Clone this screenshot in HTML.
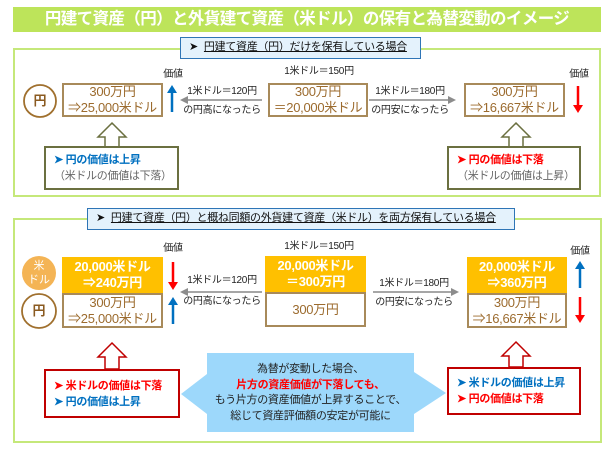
<!DOCTYPE html>
<html><head><meta charset="utf-8"><style>
body{margin:0;width:611px;height:450px;background:#fff;position:relative;overflow:hidden;font-family:"Liberation Sans","Noto Sans CJK JP",sans-serif;}
.a{position:absolute;}
.t{position:absolute;white-space:nowrap;text-align:center;line-height:1;}
.box{position:absolute;box-sizing:border-box;border:2px solid #a88a5a;color:#9c6b2e;font-size:13px;letter-spacing:-0.3px;white-space:nowrap;text-align:center;line-height:16px;display:flex;flex-direction:column;justify-content:center;background:#fff;}
.or{position:absolute;box-sizing:border-box;background:#ffc000;color:#fff;font-size:13px;letter-spacing:-0.3px;white-space:nowrap;font-weight:bold;text-align:center;line-height:16px;display:flex;flex-direction:column;justify-content:center;}
.lbl{font-size:10px;color:#222;letter-spacing:-0.3px;}
.hdr{position:absolute;box-sizing:border-box;background:#e4f2fc;border:1.5px solid #2e75b6;font-size:11px;color:#111;line-height:19px;padding-left:8px;white-space:nowrap;letter-spacing:-0.3px;}
.hdr u{margin-left:6px}
.nb{position:absolute;box-sizing:border-box;background:#fff;font-size:11px;letter-spacing:-0.3px;line-height:16px;padding:0 0 0 8px;display:flex;flex-direction:column;justify-content:center;white-space:nowrap;font-weight:bold;}
</style></head><body>
<div class="a" style="left:13px;top:7px;width:588px;height:25px;background:#bde45a;"></div>
<div class="t" style="left:13px;top:11px;width:588px;font-size:16.5px;letter-spacing:-0.6px;font-weight:bold;color:#fff;">円建て資産（円）と外貨建て資産（米ドル）の保有と為替変動のイメージ</div>

<div class="a" style="left:13px;top:48px;width:588px;height:149px;box-sizing:border-box;border:2px solid #c5e87a;"></div>
<div class="a" style="left:13px;top:218px;width:589px;height:225px;box-sizing:border-box;border:2px solid #c5e87a;"></div>

<svg class="a" style="left:0;top:0" width="611" height="450">
<defs>
<marker id="g" markerWidth="8" markerHeight="8" refX="6" refY="4" orient="auto" markerUnits="userSpaceOnUse"><path d="M0,0L8,4L0,8z" fill="#8c8c8c"/></marker>
</defs>
<circle cx="40" cy="101" r="16" fill="#fff" stroke="#a0702e" stroke-width="1.8"/>
<circle cx="39" cy="273" r="17" fill="#f4b455"/>
<circle cx="39" cy="311" r="17" fill="#fff" stroke="#a0702e" stroke-width="1.8"/>
<line x1="262" y1="100" x2="182" y2="100" stroke="#a6a6a6" stroke-width="2" marker-end="url(#g)"/>
<line x1="369" y1="100" x2="454" y2="100" stroke="#a6a6a6" stroke-width="2" marker-end="url(#g)"/>
<line x1="262" y1="292" x2="182" y2="292" stroke="#a6a6a6" stroke-width="2" marker-end="url(#g)"/>
<line x1="373" y1="292" x2="457" y2="292" stroke="#a6a6a6" stroke-width="2" marker-end="url(#g)"/>
<g stroke-width="2.5">
<line x1="172" y1="112" x2="172" y2="92" stroke="#0070c0"/><path d="M167,93L172,85L177,93z" fill="#0070c0"/>
<line x1="578" y1="86" x2="578" y2="106" stroke="#ff0000"/><path d="M573,105L578,113L583,105z" fill="#ff0000"/>
<line x1="173" y1="262" x2="173" y2="283" stroke="#ff0000"/><path d="M168,282L173,290L178,282z" fill="#ff0000"/>
<line x1="173" y1="324" x2="173" y2="304" stroke="#0070c0"/><path d="M168,305L173,297L178,305z" fill="#0070c0"/>
<line x1="580" y1="288" x2="580" y2="268" stroke="#0070c0"/><path d="M575,269L580,261L585,269z" fill="#0070c0"/>
<line x1="580" y1="297" x2="580" y2="316" stroke="#ff0000"/><path d="M575,315L580,323L585,315z" fill="#ff0000"/>
</g>
<path d="M112,123L126,137L119,137L119,147L105,147L105,137L98,137z" fill="#fff" stroke="#6b7040" stroke-width="1.5"/>
<path d="M516,123L530,137L523,137L523,147L509,147L509,137L502,137z" fill="#fff" stroke="#6b7040" stroke-width="1.5"/>
<path d="M112,343L126,357L119,357L119,369L105,369L105,357L98,357z" fill="#fff" stroke="#c00000" stroke-width="1.5"/>
<path d="M516,342L530,356L523,356L523,367L509,367L509,356L502,356z" fill="#fff" stroke="#c00000" stroke-width="1.5"/>
<path d="M207,353L414,353L414,372L446,393L414,414L414,432L207,432L207,414L181,394L207,374z" fill="#9dd8fb"/>
</svg>

<div class="t" style="left:24px;top:94px;width:32px;font-size:13px;font-weight:bold;color:#8a5a20;">円</div>
<div class="t" style="left:22px;top:259px;width:34px;font-size:11px;line-height:14px;color:#fff;">米<br>ドル</div>
<div class="t" style="left:23px;top:304px;width:32px;font-size:13px;font-weight:bold;color:#8a5a20;">円</div>

<div class="hdr" style="left:180px;top:37px;width:241px;height:22px;">➤<u>円建て資産（円）だけを保有している場合</u></div>
<div class="hdr" style="left:87px;top:208px;width:428px;height:22px;">➤<u>円建て資産（円）と概ね同額の外貨建て資産（米ドル）を両方保有している場合</u></div>

<div class="box" style="left:62px;top:83px;width:101px;height:34px;"><span>300万円</span><span>⇒25,000米ドル</span></div>
<div class="box" style="left:268px;top:83px;width:100px;height:34px;"><span>300万円</span><span>＝20,000米ドル</span></div>
<div class="box" style="left:464px;top:83px;width:101px;height:34px;"><span>300万円</span><span>⇒16,667米ドル</span></div>
<div class="t lbl" style="left:160px;top:70px;width:26px;">価値</div>
<div class="t lbl" style="left:566px;top:70px;width:26px;">価値</div>
<div class="t lbl" style="left:269px;top:67px;width:100px;">1米ドル＝150円</div>
<div class="t lbl" style="left:177px;top:87px;width:90px;">1米ドル＝120円</div>
<div class="t lbl" style="left:177px;top:106px;width:90px;">の円高になったら</div>
<div class="t lbl" style="left:365px;top:87px;width:90px;">1米ドル＝180円</div>
<div class="t lbl" style="left:365px;top:106px;width:90px;">の円安になったら</div>
<div class="nb" style="left:44px;top:146px;width:135px;height:44px;border:2px solid #6b7040;"><span style="color:#0070c0">➤ 円の価値は上昇</span><span style="color:#666;font-weight:normal;">（米ドルの価値は下落）</span></div>
<div class="nb" style="left:447px;top:146px;width:134px;height:44px;border:2px solid #6b7040;"><span style="color:#ff0000">➤ 円の価値は下落</span><span style="color:#666;font-weight:normal;">（米ドルの価値は上昇）</span></div>

<div class="or" style="left:62px;top:257px;width:101px;height:36px;"><span>20,000米ドル</span><span>⇒240万円</span></div>
<div class="box" style="left:62px;top:293px;width:101px;height:35px;"><span>300万円</span><span>⇒25,000米ドル</span></div>
<div class="or" style="left:265px;top:256px;width:101px;height:36px;"><span>20,000米ドル</span><span>＝300万円</span></div>
<div class="box" style="left:265px;top:292px;width:101px;height:35px;"><span>300万円</span></div>
<div class="or" style="left:467px;top:257px;width:100px;height:36px;"><span>20,000米ドル</span><span>⇒360万円</span></div>
<div class="box" style="left:467px;top:293px;width:100px;height:35px;"><span>300万円</span><span>⇒16,667米ドル</span></div>
<div class="t lbl" style="left:160px;top:244px;width:26px;">価値</div>
<div class="t lbl" style="left:567px;top:247px;width:26px;">価値</div>
<div class="t lbl" style="left:269px;top:242px;width:100px;">1米ドル＝150円</div>
<div class="t lbl" style="left:177px;top:276px;width:90px;">1米ドル＝120円</div>
<div class="t lbl" style="left:177px;top:297px;width:90px;">の円高になったら</div>
<div class="t lbl" style="left:369px;top:279px;width:90px;">1米ドル＝180円</div>
<div class="t lbl" style="left:369px;top:298px;width:90px;">の円安になったら</div>
<div class="nb" style="left:44px;top:369px;width:136px;height:49px;border:2px solid #c00000;"><span style="color:#ff0000">➤ 米ドルの価値は下落</span><span style="color:#0070c0">➤ 円の価値は上昇</span></div>
<div class="nb" style="left:447px;top:367px;width:134px;height:48px;border:2px solid #c00000;"><span style="color:#0070c0">➤ 米ドルの価値は上昇</span><span style="color:#ff0000">➤ 円の価値は下落</span></div>

<div class="t" style="left:207px;top:362px;width:207px;font-size:11px;letter-spacing:-0.3px;line-height:15.5px;color:#222;">為替が変動した場合、<br><span style="color:#ff0000;font-weight:bold;">片方の資産価値が下落しても、</span><br>もう片方の資産価値が上昇することで、<br>総じて資産評価額の安定が可能に</div>
</body></html>
